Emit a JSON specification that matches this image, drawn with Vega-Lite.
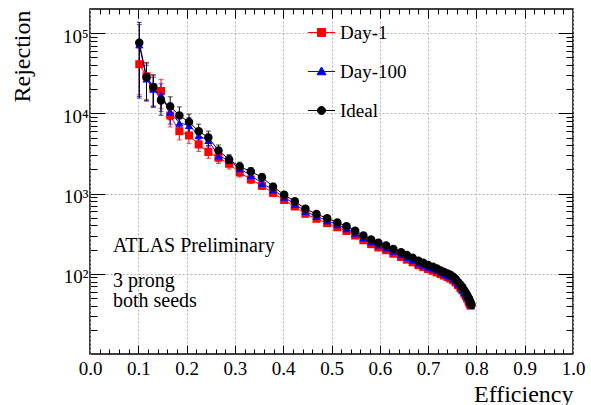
{
  "$schema": "https://vega.github.io/schema/vega-lite/v6.json",
  "width": 483,
  "height": 345,
  "autosize": {"type": "none"},
  "padding": {"left": 90, "top": 9, "right": 18, "bottom": 51},
  "background": "#ffffff",
  "title": {
    "text": "ATLAS Preliminary",
    "subtitle": ["3 prong", "both seeds"],
    "orient": "top",
    "anchor": "start",
    "frame": "group",
    "offset": 0,
    "dx": 23,
    "dy": 302,
    "font": "Liberation Serif",
    "fontSize": 20,
    "fontWeight": "normal",
    "color": "#000000",
    "subtitleFont": "Liberation Serif",
    "subtitleFontSize": 20,
    "subtitleColor": "#000000",
    "subtitleLineHeight": 20,
    "subtitlePadding": 15
  },
  "config": {
    "font": "Liberation Serif",
    "view": {"stroke": "#000000", "strokeWidth": 1.5},
    "axis": {
      "domain": false,
      "labelFont": "Liberation Serif",
      "titleFont": "Liberation Serif",
      "labelColor": "#000000",
      "titleColor": "#000000",
      "tickColor": "#000000",
      "tickWidth": 1,
      "gridColor": "#b4b4b4",
      "gridDash": [2, 2],
      "gridWidth": 1,
      "titleFontWeight": "normal",
      "labelFlush": false,
      "labelOverlap": false
    },
    "legend": {
      "title": null,
      "orient": "none",
      "legendX": 222,
      "labelFont": "Liberation Serif",
      "labelFontSize": 19,
      "labelColor": "#000000",
      "labelOffset": 9,
      "symbolSize": 100,
      "symbolStrokeWidth": 1,
      "symbolOpacity": 1
    }
  },
  "data": {
    "values": [
      {"series": "Day-1", "eff": 0.102, "rej": 41000, "lo": 17040, "hi": 64960},
      {"series": "Day-1", "eff": 0.117, "rej": 29000, "lo": 14740, "hi": 43260},
      {"series": "Day-1", "eff": 0.131, "rej": 21000, "lo": 12220, "hi": 29780},
      {"series": "Day-1", "eff": 0.147, "rej": 19000, "lo": 11440, "hi": 26560},
      {"series": "Day-1", "eff": 0.166, "rej": 9400, "lo": 6770, "hi": 12030},
      {"series": "Day-1", "eff": 0.185, "rej": 6000, "lo": 4660, "hi": 7340},
      {"series": "Day-1", "eff": 0.205, "rej": 5300, "lo": 4186, "hi": 6414},
      {"series": "Day-1", "eff": 0.225, "rej": 4100, "lo": 3342, "hi": 4858},
      {"series": "Day-1", "eff": 0.245, "rej": 3300, "lo": 2753, "hi": 3847},
      {"series": "Day-1", "eff": 0.266, "rej": 2800, "lo": 2372, "hi": 3228},
      {"series": "Day-1", "eff": 0.288, "rej": 2350, "lo": 2021, "hi": 2679},
      {"series": "Day-1", "eff": 0.31, "rej": 1830, "lo": 1604, "hi": 2056},
      {"series": "Day-1", "eff": 0.333, "rej": 1500, "lo": 1332, "hi": 1668},
      {"series": "Day-1", "eff": 0.356, "rej": 1250, "lo": 1122, "hi": 1378},
      {"series": "Day-1", "eff": 0.379, "rej": 1020, "lo": 926, "hi": 1114},
      {"series": "Day-1", "eff": 0.402, "rej": 830, "lo": 761, "hi": 899},
      {"series": "Day-1", "eff": 0.424, "rej": 690, "lo": 638, "hi": 742},
      {"series": "Day-1", "eff": 0.446, "rej": 560, "lo": 522, "hi": 598},
      {"series": "Day-1", "eff": 0.469, "rej": 485},
      {"series": "Day-1", "eff": 0.491, "rej": 428},
      {"series": "Day-1", "eff": 0.512, "rej": 380},
      {"series": "Day-1", "eff": 0.531, "rej": 342},
      {"series": "Day-1", "eff": 0.549, "rej": 300},
      {"series": "Day-1", "eff": 0.566, "rej": 262},
      {"series": "Day-1", "eff": 0.582, "rej": 234},
      {"series": "Day-1", "eff": 0.597, "rej": 213},
      {"series": "Day-1", "eff": 0.613, "rej": 197},
      {"series": "Day-1", "eff": 0.628, "rej": 178},
      {"series": "Day-1", "eff": 0.644, "rej": 162},
      {"series": "Day-1", "eff": 0.656, "rej": 150},
      {"series": "Day-1", "eff": 0.668, "rej": 139},
      {"series": "Day-1", "eff": 0.68, "rej": 128},
      {"series": "Day-1", "eff": 0.69, "rej": 121},
      {"series": "Day-1", "eff": 0.7, "rej": 114},
      {"series": "Day-1", "eff": 0.71, "rej": 109},
      {"series": "Day-1", "eff": 0.718, "rej": 104},
      {"series": "Day-1", "eff": 0.726, "rej": 99},
      {"series": "Day-1", "eff": 0.733, "rej": 95},
      {"series": "Day-1", "eff": 0.74, "rej": 91},
      {"series": "Day-1", "eff": 0.746, "rej": 87},
      {"series": "Day-1", "eff": 0.752, "rej": 83},
      {"series": "Day-1", "eff": 0.757, "rej": 78},
      {"series": "Day-1", "eff": 0.762, "rej": 72},
      {"series": "Day-1", "eff": 0.767, "rej": 66},
      {"series": "Day-1", "eff": 0.771, "rej": 62},
      {"series": "Day-1", "eff": 0.775, "rej": 57},
      {"series": "Day-1", "eff": 0.778, "rej": 53},
      {"series": "Day-1", "eff": 0.781, "rej": 49},
      {"series": "Day-1", "eff": 0.784, "rej": 45},
      {"series": "Day-1", "eff": 0.786, "rej": 42},
      {"series": "Day-1", "eff": 0.788, "rej": 40},

      {"series": "Day-100", "eff": 0.102, "rej": 72000, "lo": 16230, "hi": 127770},
      {"series": "Day-100", "eff": 0.117, "rej": 27000, "lo": 14190, "hi": 39810},
      {"series": "Day-100", "eff": 0.131, "rej": 20000, "lo": 11835, "hi": 28165},
      {"series": "Day-100", "eff": 0.147, "rej": 17000, "lo": 10600, "hi": 23400},
      {"series": "Day-100", "eff": 0.166, "rej": 10400, "lo": 7338, "hi": 13462},
      {"series": "Day-100", "eff": 0.185, "rej": 7600, "lo": 5687, "hi": 9513},
      {"series": "Day-100", "eff": 0.205, "rej": 7100, "lo": 5373, "hi": 8827},
      {"series": "Day-100", "eff": 0.225, "rej": 5300, "lo": 4186, "hi": 6414},
      {"series": "Day-100", "eff": 0.245, "rej": 4600, "lo": 3699, "hi": 5501},
      {"series": "Day-100", "eff": 0.266, "rej": 2950, "lo": 2487, "hi": 3413},
      {"series": "Day-100", "eff": 0.288, "rej": 2600, "lo": 2217, "hi": 2983},
      {"series": "Day-100", "eff": 0.31, "rej": 2040, "lo": 1774, "hi": 2306},
      {"series": "Day-100", "eff": 0.333, "rej": 1680, "lo": 1481, "hi": 1879},
      {"series": "Day-100", "eff": 0.356, "rej": 1350, "lo": 1207, "hi": 1493},
      {"series": "Day-100", "eff": 0.379, "rej": 1110, "lo": 1003, "hi": 1217},
      {"series": "Day-100", "eff": 0.402, "rej": 900, "lo": 822, "hi": 978},
      {"series": "Day-100", "eff": 0.424, "rej": 740, "lo": 682, "hi": 798},
      {"series": "Day-100", "eff": 0.446, "rej": 600, "lo": 558, "hi": 642},
      {"series": "Day-100", "eff": 0.469, "rej": 520},
      {"series": "Day-100", "eff": 0.491, "rej": 460},
      {"series": "Day-100", "eff": 0.512, "rej": 410},
      {"series": "Day-100", "eff": 0.531, "rej": 366},
      {"series": "Day-100", "eff": 0.549, "rej": 322},
      {"series": "Day-100", "eff": 0.566, "rej": 281},
      {"series": "Day-100", "eff": 0.582, "rej": 251},
      {"series": "Day-100", "eff": 0.597, "rej": 229},
      {"series": "Day-100", "eff": 0.613, "rej": 211},
      {"series": "Day-100", "eff": 0.628, "rej": 191},
      {"series": "Day-100", "eff": 0.644, "rej": 173},
      {"series": "Day-100", "eff": 0.656, "rej": 160},
      {"series": "Day-100", "eff": 0.668, "rej": 148},
      {"series": "Day-100", "eff": 0.68, "rej": 136},
      {"series": "Day-100", "eff": 0.69, "rej": 128},
      {"series": "Day-100", "eff": 0.7, "rej": 121},
      {"series": "Day-100", "eff": 0.71, "rej": 116},
      {"series": "Day-100", "eff": 0.718, "rej": 110},
      {"series": "Day-100", "eff": 0.726, "rej": 104},
      {"series": "Day-100", "eff": 0.733, "rej": 100},
      {"series": "Day-100", "eff": 0.74, "rej": 96},
      {"series": "Day-100", "eff": 0.746, "rej": 92},
      {"series": "Day-100", "eff": 0.752, "rej": 87},
      {"series": "Day-100", "eff": 0.757, "rej": 82},
      {"series": "Day-100", "eff": 0.762, "rej": 75},
      {"series": "Day-100", "eff": 0.767, "rej": 69},
      {"series": "Day-100", "eff": 0.771, "rej": 64},
      {"series": "Day-100", "eff": 0.775, "rej": 59},
      {"series": "Day-100", "eff": 0.778, "rej": 55},
      {"series": "Day-100", "eff": 0.781, "rej": 51},
      {"series": "Day-100", "eff": 0.784, "rej": 47},
      {"series": "Day-100", "eff": 0.786, "rej": 44},
      {"series": "Day-100", "eff": 0.789, "rej": 41},

      {"series": "Ideal", "eff": 0.102, "rej": 76000, "lo": 15500, "hi": 136500},
      {"series": "Ideal", "eff": 0.117, "rej": 28500, "lo": 14600, "hi": 42400},
      {"series": "Ideal", "eff": 0.131, "rej": 21300, "lo": 12330, "hi": 30270},
      {"series": "Ideal", "eff": 0.147, "rej": 14500, "lo": 9460, "hi": 19540},
      {"series": "Ideal", "eff": 0.166, "rej": 12200, "lo": 8310, "hi": 16090},
      {"series": "Ideal", "eff": 0.185, "rej": 9400, "lo": 6770, "hi": 12030},
      {"series": "Ideal", "eff": 0.205, "rej": 7800, "lo": 5810, "hi": 9790},
      {"series": "Ideal", "eff": 0.225, "rej": 6000, "lo": 4660, "hi": 7340},
      {"series": "Ideal", "eff": 0.245, "rej": 5000, "lo": 3980, "hi": 6020},
      {"series": "Ideal", "eff": 0.266, "rej": 3450, "lo": 2865, "hi": 4035},
      {"series": "Ideal", "eff": 0.288, "rej": 2660, "lo": 2264, "hi": 3056},
      {"series": "Ideal", "eff": 0.31, "rej": 2170, "lo": 1878, "hi": 2462},
      {"series": "Ideal", "eff": 0.333, "rej": 1880, "lo": 1645, "hi": 2115},
      {"series": "Ideal", "eff": 0.356, "rej": 1600, "lo": 1415, "hi": 1785},
      {"series": "Ideal", "eff": 0.379, "rej": 1220, "lo": 1097, "hi": 1343},
      {"series": "Ideal", "eff": 0.402, "rej": 965, "lo": 878, "hi": 1052},
      {"series": "Ideal", "eff": 0.424, "rej": 800, "lo": 735, "hi": 865},
      {"series": "Ideal", "eff": 0.446, "rej": 645, "lo": 598, "hi": 692},
      {"series": "Ideal", "eff": 0.469, "rej": 557},
      {"series": "Ideal", "eff": 0.491, "rej": 491},
      {"series": "Ideal", "eff": 0.512, "rej": 437},
      {"series": "Ideal", "eff": 0.531, "rej": 392},
      {"series": "Ideal", "eff": 0.549, "rej": 345},
      {"series": "Ideal", "eff": 0.566, "rej": 300},
      {"series": "Ideal", "eff": 0.582, "rej": 268},
      {"series": "Ideal", "eff": 0.597, "rej": 244},
      {"series": "Ideal", "eff": 0.613, "rej": 226},
      {"series": "Ideal", "eff": 0.628, "rej": 204},
      {"series": "Ideal", "eff": 0.644, "rej": 185},
      {"series": "Ideal", "eff": 0.656, "rej": 171},
      {"series": "Ideal", "eff": 0.668, "rej": 158},
      {"series": "Ideal", "eff": 0.68, "rej": 145},
      {"series": "Ideal", "eff": 0.69, "rej": 137},
      {"series": "Ideal", "eff": 0.7, "rej": 129},
      {"series": "Ideal", "eff": 0.71, "rej": 122},
      {"series": "Ideal", "eff": 0.718, "rej": 116},
      {"series": "Ideal", "eff": 0.726, "rej": 110},
      {"series": "Ideal", "eff": 0.733, "rej": 105},
      {"series": "Ideal", "eff": 0.74, "rej": 101},
      {"series": "Ideal", "eff": 0.746, "rej": 97},
      {"series": "Ideal", "eff": 0.752, "rej": 92},
      {"series": "Ideal", "eff": 0.757, "rej": 86},
      {"series": "Ideal", "eff": 0.762, "rej": 79},
      {"series": "Ideal", "eff": 0.767, "rej": 73},
      {"series": "Ideal", "eff": 0.771, "rej": 68},
      {"series": "Ideal", "eff": 0.775, "rej": 62},
      {"series": "Ideal", "eff": 0.778, "rej": 58},
      {"series": "Ideal", "eff": 0.781, "rej": 54},
      {"series": "Ideal", "eff": 0.784, "rej": 50},
      {"series": "Ideal", "eff": 0.786, "rej": 47},
      {"series": "Ideal", "eff": 0.788, "rej": 44},
      {"series": "Ideal", "eff": 0.79, "rej": 41}
    ]
  },
  "resolve": {
    "axis": {"x": "independent", "y": "independent"},
    "legend": {"color": "independent"}
  },
  "layer": [
    {
      "transform": [{"filter": "datum.lo != null"}],
      "mark": {"type": "errorbar", "ticks": {"size": 5}, "thickness": 1},
      "encoding": {
        "x": {
          "field": "eff", "type": "quantitative",
          "scale": {"domain": [0, 1], "nice": false, "zero": false},
          "axis": {
            "orient": "top", "labels": false, "grid": false, "title": null,
            "values": [0.02,0.04,0.06,0.08,0.1,0.12,0.14,0.16,0.18,0.2,0.22,0.24,0.26,0.28,0.3,0.32,0.34,0.36,0.38,0.4,0.42,0.44,0.46,0.48,0.5,0.52,0.54,0.56,0.58,0.6,0.62,0.64,0.66,0.68,0.7,0.72,0.74,0.76,0.78,0.8,0.82,0.84,0.86,0.88,0.9,0.92,0.94,0.96,0.98],
            "tickSize": {"condition": {"test": "abs(datum.value * 10 - round(datum.value * 10)) < 0.001", "value": -9}, "value": -5}
          }
        },
        "y": {
          "field": "lo", "type": "quantitative",
          "scale": {"type": "log", "domain": [10, 200000], "nice": false},
          "axis": {
            "orient": "right", "labels": false, "grid": false, "title": null,
            "values": [20,30,40,50,60,70,80,90,100,200,300,400,500,600,700,800,900,1000,2000,3000,4000,5000,6000,7000,8000,9000,10000,20000,30000,40000,50000,60000,70000,80000,90000,100000],
            "tickSize": {"condition": {"test": "indexof([100, 1000, 10000, 100000], datum.value) >= 0", "value": -15}, "value": -7}
          }
        },
        "y2": {"field": "hi"},
        "color": {
          "field": "series", "type": "nominal",
          "scale": {"domain": ["Day-1", "Day-100", "Ideal"], "range": ["#ff0000", "#0000ff", "#000000"]},
          "legend": null
        }
      }
    },
    {
      "mark": {"type": "line", "strokeWidth": 1},
      "encoding": {
        "x": {
          "field": "eff", "type": "quantitative",
          "axis": {
            "orient": "bottom",
            "values": [0, 0.1, 0.2, 0.3, 0.4, 0.5, 0.6, 0.7, 0.8, 0.9, 1.0],
            "format": ".1f",
            "ticks": false,
            "grid": true,
            "labelFontSize": 19,
            "labelBaseline": "alphabetic",
            "labelPadding": 20,
            "title": "Efficiency",
            "titleFontSize": 24,
            "titleAnchor": "end",
            "titleAlign": "right",
            "titleBaseline": "alphabetic",
            "titleX": 483,
            "titleY": 47
          }
        },
        "y": {
          "field": "rej", "type": "quantitative",
          "axis": {
            "orient": "left",
            "values": [100, 1000, 10000, 100000],
            "labelExpr": "datum.value == 100 ? '10²' : datum.value == 1000 ? '10³' : datum.value == 10000 ? '10⁴' : '10⁵'",
            "ticks": false,
            "grid": true,
            "labelFontSize": 19,
            "labelPadding": 2,
            "labelBaseline": "alphabetic",
            "labelOffset": 9,
            "title": "Rejection",
            "titleFontSize": 24,
            "titleAngle": 270,
            "titleAlign": "right",
            "titleBaseline": "alphabetic",
            "titleX": -61,
            "titleY": 1
          }
        },
        "color": {"field": "series", "type": "nominal", "legend": null}
      }
    },
    {
      "transform": [{"filter": "datum.series === 'Day-1'"}],
      "mark": {"type": "point", "shape": "square", "filled": true, "opacity": 1, "size": 64},
      "encoding": {
        "x": {
          "field": "eff", "type": "quantitative",
          "axis": {
            "orient": "bottom", "labels": false, "grid": false, "title": null,
            "values": [0.02,0.04,0.06,0.08,0.1,0.12,0.14,0.16,0.18,0.2,0.22,0.24,0.26,0.28,0.3,0.32,0.34,0.36,0.38,0.4,0.42,0.44,0.46,0.48,0.5,0.52,0.54,0.56,0.58,0.6,0.62,0.64,0.66,0.68,0.7,0.72,0.74,0.76,0.78,0.8,0.82,0.84,0.86,0.88,0.9,0.92,0.94,0.96,0.98],
            "tickSize": {"condition": {"test": "abs(datum.value * 10 - round(datum.value * 10)) < 0.001", "value": -9}, "value": -5}
          }
        },
        "y": {
          "field": "rej", "type": "quantitative",
          "axis": {
            "orient": "left", "labels": false, "grid": false, "title": null,
            "values": [20,30,40,50,60,70,80,90,100,200,300,400,500,600,700,800,900,1000,2000,3000,4000,5000,6000,7000,8000,9000,10000,20000,30000,40000,50000,60000,70000,80000,90000,100000],
            "tickSize": {"condition": {"test": "indexof([100, 1000, 10000, 100000], datum.value) >= 0", "value": -15}, "value": -7}
          }
        },
        "color": {
          "field": "series", "type": "nominal",
          "legend": {
            "values": ["Day-1"],
            "legendY": 14,
            "symbolType": "M-2.7,0H2.7M-0.8,-0.8H0.8V0.8H-0.8Z",
            "symbolFillColor": "#ff0000",
            "symbolStrokeColor": "#ff0000"
          }
        }
      }
    },
    {
      "transform": [{"filter": "datum.series === 'Day-100'"}],
      "mark": {"type": "point", "shape": "triangle-up", "filled": true, "opacity": 1, "size": 70},
      "encoding": {
        "x": {"field": "eff", "type": "quantitative", "axis": null},
        "y": {"field": "rej", "type": "quantitative", "axis": null},
        "color": {
          "field": "series", "type": "nominal",
          "legend": {
            "values": ["Day-100"],
            "legendY": 53,
            "symbolType": "M-2.7,0H2.7M0,-0.9L0.9,0.65H-0.9Z",
            "symbolFillColor": "#0000ff",
            "symbolStrokeColor": "#0000ff"
          }
        }
      }
    },
    {
      "transform": [{"filter": "datum.series === 'Ideal'"}],
      "mark": {"type": "point", "shape": "circle", "filled": true, "opacity": 1, "size": 72},
      "encoding": {
        "x": {"field": "eff", "type": "quantitative", "axis": null},
        "y": {"field": "rej", "type": "quantitative", "axis": null},
        "color": {
          "field": "series", "type": "nominal",
          "legend": {
            "values": ["Ideal"],
            "legendY": 92,
            "symbolType": "M-2.7,0H2.7M0.8,0A0.8,0.8,0,1,1,-0.8,0A0.8,0.8,0,1,1,0.8,0Z",
            "symbolFillColor": "#000000",
            "symbolStrokeColor": "#000000"
          }
        }
      }
    }
  ]
}
